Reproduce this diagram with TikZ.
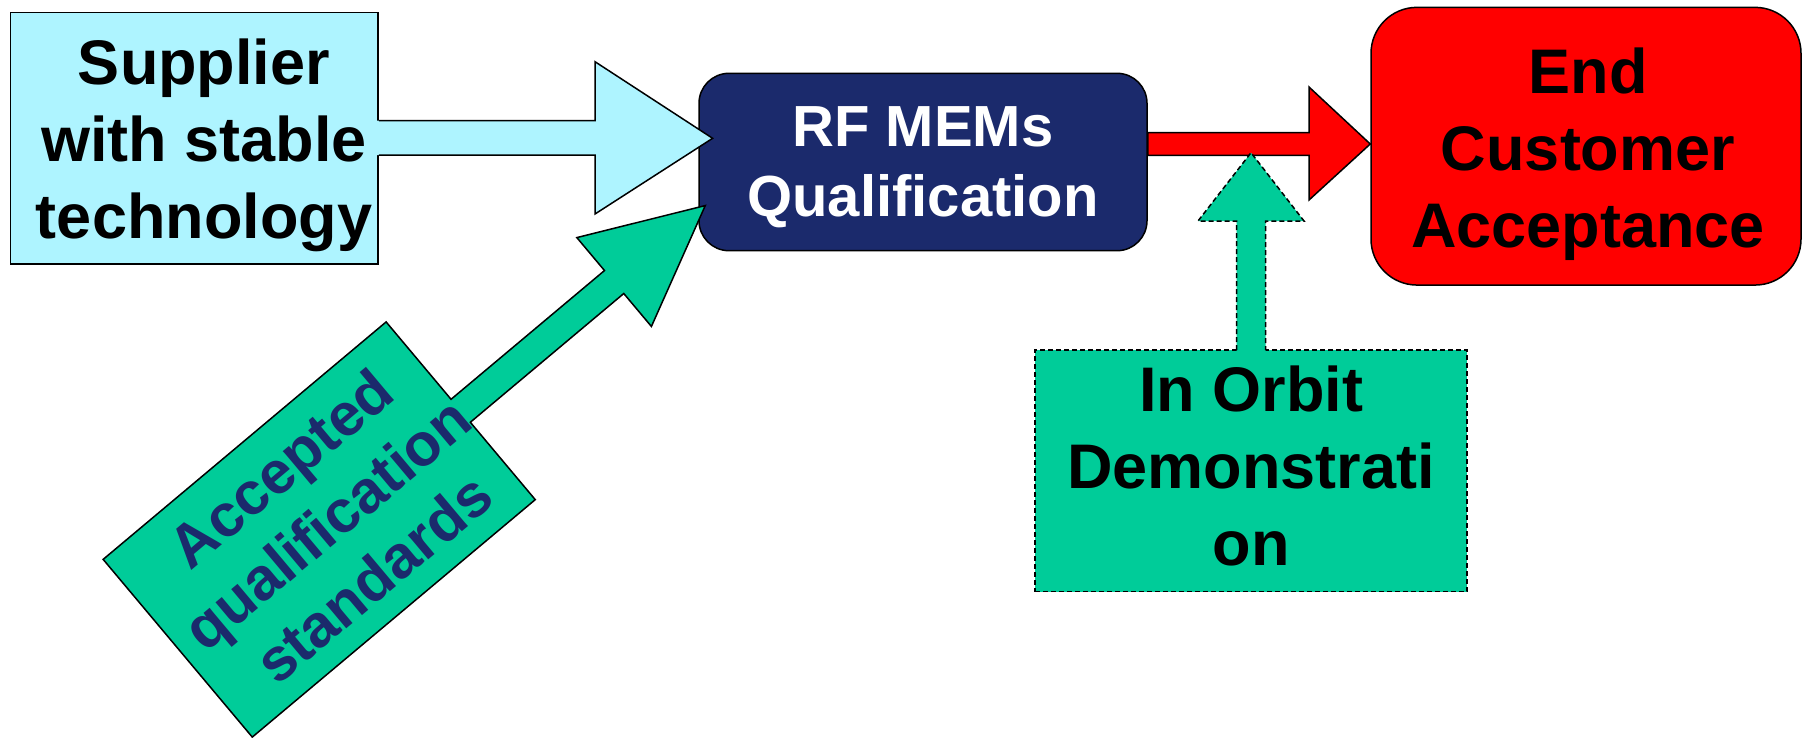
\documentclass[tikz,border=0pt]{standalone}
\usepackage{fontspec}
\setmainfont{Liberation Sans}
\definecolor{skyfill}{RGB}{174,244,255}
\definecolor{navy}{RGB}{27,42,108}
\definecolor{seagreen}{RGB}{0,204,153}
\begin{document}
\begin{tikzpicture}[x=1pt,y=-1pt,
  outline/.style={draw=black, line width=1.5pt, line join=miter},
  dashline/.style={draw=black, line width=1.5pt, dash pattern=on 5pt off 3pt},
  bigtext/.style={font=\fontsize{63}{77}\selectfont\bfseries, align=center, inner sep=0pt},
  midtext/.style={font=\fontsize{58}{70}\selectfont\bfseries, align=center, inner sep=0pt},
  sidetext/.style={font=\fontsize{60}{72}\selectfont\bfseries, align=center, inner sep=0pt}]

\useasboundingbox (0,0) rectangle (1803,737);

% boxes
\node[outline, fill=skyfill, minimum width=367.3pt, minimum height=251.7pt, inner sep=0pt] (sup) at (194.35,138.15) {};
\node[outline, fill=navy, rounded corners=30pt, minimum width=448pt, minimum height=177.4pt, inner sep=0pt] (rf) at (923,162) {};
\node[outline, fill=red, rounded corners=46pt, minimum width=430pt, minimum height=277.7pt, inner sep=0pt] (cust) at (1586,146.2) {};
\node[dashline, fill=seagreen, minimum width=432pt, minimum height=241.7pt, inner sep=0pt] (iod) at (1251,470.85) {};

% block arrow: supplier -> qualification
\fill[skyfill] (376,120.7) -- (595,120.7) -- (595,61.7) -- (712.6,138.3) -- (595,214) -- (595,155) -- (376,155) -- cycle;
\draw[outline] (sup.east |- 0,120.7) -- (595,120.7) -- (595,61.7) -- (712.6,138.3) -- (595,214) -- (595,155) -- (sup.east |- 0,155);

% block arrow: qualification -> customer acceptance
\draw[outline, fill=red] (rf.east |- 0,132.7) -- (1309,132.7) -- (1309,87) -- (cust.west |- 0,144) -- (1309,200) -- (1309,155.3) -- (rf.east |- 0,155.3) -- cycle;

% dashed block arrow rising from the in-orbit box
\fill[seagreen] (1236.5,352) -- (1236.5,221) -- (1198,221) -- (1251,152.7) -- (1304,221) -- (1265.5,221) -- (1265.5,352) -- cycle;
\draw[dashline] (1236.5,350) -- (1236.5,221) -- (1198,221) -- (1251,152.7) -- (1304,221) -- (1265.5,221) -- (1265.5,350);

% callout with arrow towards the qualification box
\begin{scope}[shift={(319.2,529.5)}, rotate=40]
  \draw[outline, fill=seagreen] (-184.7,-116) -- (184.7,-116) -- (184.7,-15) -- (385,-15) -- (385,-58) -- (504,0) -- (385,58) -- (385,15) -- (184.7,15) -- (184.7,116) -- (-184.7,116) -- cycle;
  \node[sidetext, text=navy, rotate=40] (stdtext) at (10,0) {Accepted\\qualification\\standards};
\end{scope}

% labels
\node[bigtext] (suptext) at (204,145.5) {Supplier\\with stable\\technology};
\node[midtext, text=white] (rftext) at (923,167) {RF MEMs\\Qualification};
\node[bigtext] (custtext) at (1588,154) {End\\Customer\\Acceptance};
\node[bigtext] (iodtext) at (1251,466) {In Orbit\\Demonstrati\\on};
\end{tikzpicture}
\end{document}
